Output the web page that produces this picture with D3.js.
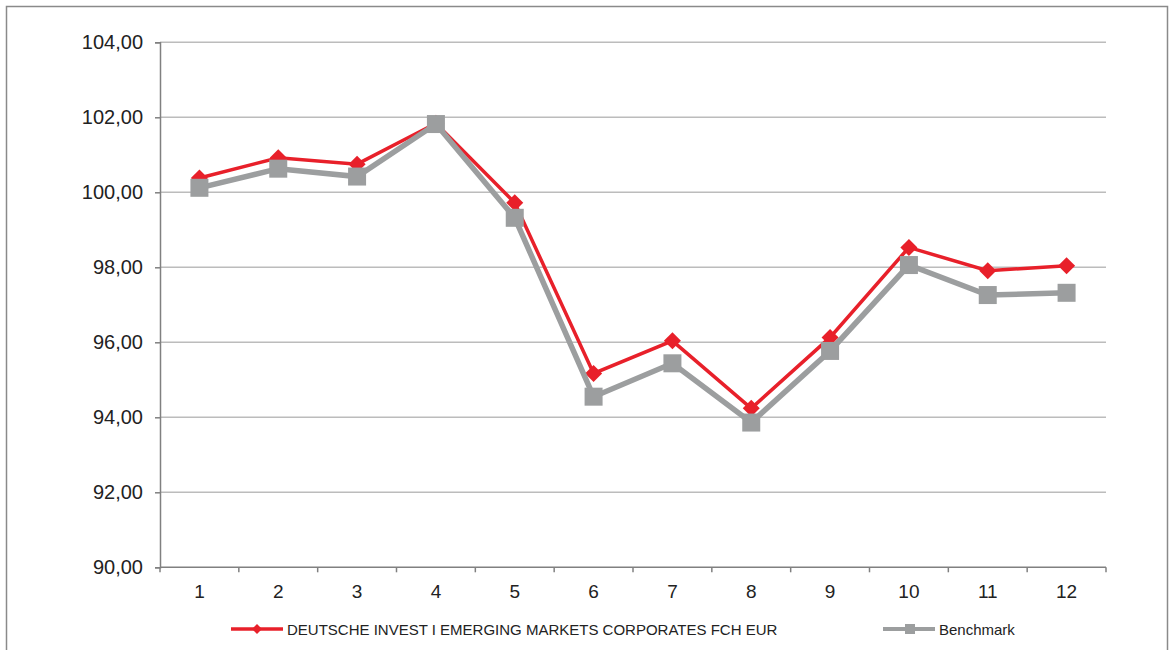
<!DOCTYPE html>
<html>
<head>
<meta charset="utf-8">
<script src="https://cdn.jsdelivr.net/npm/d3@7"></script>
<style>
  body { margin: 0; background: #fff; }
  svg { display: block; font-family: "Liberation Sans", Arial, sans-serif; }
</style>
</head>
<body>
<div id="chart"></div>
<script>
const categories = ["1", "2", "3", "4", "5", "6", "7", "8", "9", "10", "11", "12"];
const fundValues = [100.38, 100.92, 100.75, 101.84, 99.72, 95.17, 96.04, 94.24, 96.13, 98.53, 97.91, 98.04];
const benchValues = [100.12, 100.63, 100.42, 101.82, 99.32, 94.55, 95.44, 93.86, 95.77, 98.06, 97.26, 97.32];
const yTicks = [90, 92, 94, 96, 98, 100, 102, 104];
const fundName = "DEUTSCHE INVEST I EMERGING MARKETS CORPORATES FCH EUR";
const benchName = "Benchmark";

const W = 1174, H = 650;
const margin = { top: 42.3, right: 68, bottom: 82.7, left: 160 };
const width = W - margin.left - margin.right;
const height = H - margin.top - margin.bottom;

const red = "#e8202a";
const grey = "#9c9e9f";

const svg = d3.select("#chart")
    .append("svg")
    .attr("width", W)
    .attr("height", H);

// outer frame
svg.append("rect")
    .attr("x", 6.5).attr("y", 6.5)
    .attr("width", 1161).attr("height", 660)
    .attr("fill", "none")
    .attr("stroke", "#8a8a8a")
    .attr("stroke-width", 1.5);

const g = svg.append("g")
    .attr("transform", `translate(${margin.left}, ${margin.top})`);

const x = d3.scaleBand()
    .domain(categories)
    .range([0, width]);

const y = d3.scaleLinear()
    .domain([90, 104])
    .range([height, 0]);

// gridlines
g.append("g")
    .selectAll("line")
    .data(yTicks.filter(d => d > 90))
    .enter()
    .append("line")
    .attr("x1", 0).attr("x2", width)
    .attr("y1", d => y(d)).attr("y2", d => y(d))
    .attr("stroke", "#bcbcbc")
    .attr("stroke-width", 1.5);

// y axis
const yAxis = d3.axisLeft(y)
    .tickValues(yTicks)
    .tickSize(5)
    .tickPadding(12)
    .tickFormat(d => d3.format(".2f")(d).replace(".", ","));

g.append("g")
    .call(yAxis)
    .call(a => a.selectAll("path, line").attr("stroke", "#808080").attr("stroke-width", 1.5))
    .call(a => a.selectAll("text").attr("font-size", 20).attr("fill", "#222"));

// x axis with ticks between categories
const xAxisG = g.append("g")
    .attr("transform", `translate(0, ${height})`);

xAxisG.append("line")
    .attr("x1", 0).attr("x2", width)
    .attr("stroke", "#808080").attr("stroke-width", 1.5);

xAxisG.selectAll(".tk")
    .data(categories.concat(["end"]))
    .enter()
    .append("line")
    .attr("class", "tk")
    .attr("x1", (d, i) => i * x.step()).attr("x2", (d, i) => i * x.step())
    .attr("y1", 0).attr("y2", 5)
    .attr("stroke", "#808080").attr("stroke-width", 1.5);

xAxisG.selectAll("text")
    .data(categories)
    .enter()
    .append("text")
    .attr("x", d => x(d) + x.bandwidth() / 2)
    .attr("y", 31)
    .attr("text-anchor", "middle")
    .attr("font-size", 19)
    .attr("fill", "#222")
    .text(d => d);

const cx = (d, i) => x(categories[i]) + x.bandwidth() / 2;
const line = d3.line().x(cx).y(d => y(d));

// fund series
g.append("path")
    .datum(fundValues)
    .attr("d", line)
    .attr("fill", "none")
    .attr("stroke", red)
    .attr("stroke-width", 3.5)
    .attr("stroke-linejoin", "miter");

const diamond = d3.symbol().type(d3.symbolSquare).size(145);
g.selectAll(".fund")
    .data(fundValues)
    .enter()
    .append("path")
    .attr("class", "fund")
    .attr("d", diamond)
    .attr("transform", (d, i) => `translate(${cx(d, i)}, ${y(d)}) rotate(45)`)
    .attr("fill", red);

// benchmark series
g.append("path")
    .datum(benchValues)
    .attr("d", line)
    .attr("fill", "none")
    .attr("stroke", grey)
    .attr("stroke-width", 5.5)
    .attr("stroke-linejoin", "miter");

g.selectAll(".bench")
    .data(benchValues)
    .enter()
    .append("rect")
    .attr("class", "bench")
    .attr("x", (d, i) => cx(d, i) - 9)
    .attr("y", d => y(d) - 9)
    .attr("width", 18).attr("height", 18)
    .attr("fill", grey);

// legend
const legend = svg.append("g").attr("transform", "translate(0, 629)");

const l1 = legend.append("g").attr("transform", "translate(231, 0)");
l1.append("line").attr("x1", 0).attr("x2", 52).attr("stroke", red).attr("stroke-width", 3.5);
l1.append("path").attr("d", d3.symbol().type(d3.symbolSquare).size(50))
    .attr("transform", "translate(26, 0) rotate(45)").attr("fill", red);
l1.append("text").attr("x", 56).attr("y", 5.5).attr("font-size", 15).attr("fill", "#222").text(fundName);

const l2 = legend.append("g").attr("transform", "translate(883, 0)");
l2.append("line").attr("x1", 0).attr("x2", 52).attr("stroke", grey).attr("stroke-width", 4);
l2.append("rect").attr("x", 22).attr("y", -5).attr("width", 10).attr("height", 10).attr("fill", grey);
l2.append("text").attr("x", 56).attr("y", 5.5).attr("font-size", 15).attr("fill", "#222").text(benchName);
</script>
</body>
</html>
